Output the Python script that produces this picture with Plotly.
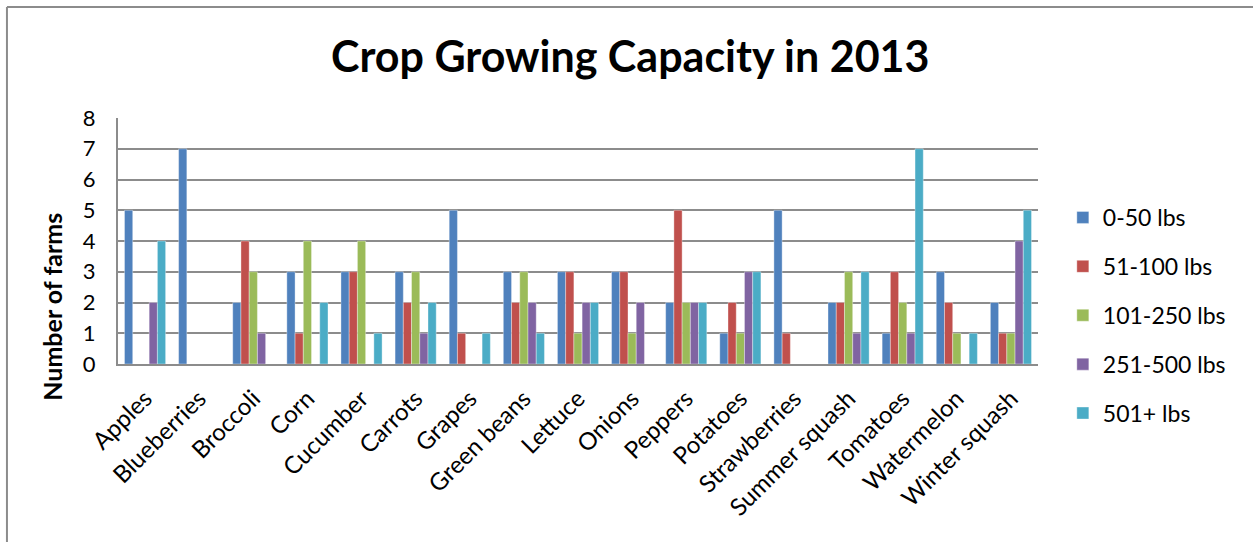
import plotly.graph_objects as go

crops = ["Apples", "Blueberries", "Broccoli", "Corn", "Cucumber", "Carrots", "Grapes",
         "Green beans", "Lettuce", "Onions", "Peppers", "Potatoes", "Strawberries",
         "Summer squash", "Tomatoes", "Watermelon", "Winter squash"]

lbs_0_50 = [5, 7, 2, 3, 3, 3, 5, 3, 3, 3, 2, 1, 5, 2, 1, 3, 2]
lbs_51_100 = [0, 0, 4, 1, 3, 2, 1, 2, 3, 3, 5, 2, 1, 2, 3, 2, 1]
lbs_101_250 = [0, 0, 3, 4, 4, 3, 0, 3, 1, 1, 2, 1, 0, 3, 2, 1, 1]
lbs_251_500 = [2, 0, 1, 0, 0, 1, 0, 2, 2, 2, 2, 3, 0, 1, 1, 0, 4]
lbs_501_plus = [4, 0, 0, 2, 1, 2, 1, 1, 2, 0, 2, 3, 0, 3, 7, 1, 5]

series_names = ["0-50 lbs", "51-100 lbs", "101-250 lbs", "251-500 lbs", "501+ lbs"]
series_values = [lbs_0_50, lbs_51_100, lbs_101_250, lbs_251_500, lbs_501_plus]
colors = ["#4F81BD", "#C0504D", "#9BBB59", "#8064A2", "#4BACC6"]

y_ticks = [0, 1, 2, 3, 4, 5, 6, 7, 8]

FONT = "Lato, 'Open Sans', sans-serif"

fig = go.Figure()
for name, vals, col in zip(series_names, series_values, colors):
    fig.add_trace(go.Bar(
        x=crops, y=vals, name=name, legendgroup=name,
        marker=dict(color=col, line=dict(color="rgba(255,255,255,0.6)", width=0.6)),
    ))

fig.update_layout(
    width=1253, height=542,
    margin=dict(l=118, r=215, t=118, b=178),
    paper_bgcolor="white", plot_bgcolor="white",
    barmode="group", bargap=0.24, bargroupgap=0,
    font=dict(family=FONT, color="black"),
    title=dict(text="<b>Crop Growing Capacity in 2013</b>", x=0.503, xanchor="center",
               y=0.895, yanchor="middle", font=dict(size=43, family=FONT)),
    xaxis=dict(tickangle=-45, tickfont=dict(size=24), showgrid=False,
               showline=True, linecolor="#8c8c8c", linewidth=2, ticks="",
               ticklabelstandoff=9),
    yaxis=dict(range=[0, 8], tickvals=y_ticks, tickfont=dict(size=22),
               showgrid=True, gridcolor="#8c8c8c", gridwidth=2,
               showline=True, linecolor="#8c8c8c", linewidth=2,
               zeroline=False, ticks="", ticklabelstandoff=16),
    legend=dict(x=1.027, xanchor="left", y=0.683, yanchor="top",
                font=dict(size=23), tracegroupgap=16, itemwidth=30),
    showlegend=True,
)

fig.add_annotation(text="<b>Number of farms</b>", textangle=-90, xref="paper", yref="paper",
                   x=-0.072, y=0.232, xanchor="center", yanchor="middle",
                   showarrow=False, font=dict(size=25, family=FONT))

# outer chart-area frame (left and top edges)
fig.add_shape(type="line", xref="paper", yref="paper", x0=-0.1207, x1=-0.1207, y0=-0.73, y1=1.451,
              line=dict(color="#8c8c8c", width=2))
fig.add_shape(type="line", xref="paper", yref="paper", x0=-0.1207, x1=1.24, y0=1.451, y1=1.451,
              line=dict(color="#8c8c8c", width=2))

fig.write_html("out.html")
